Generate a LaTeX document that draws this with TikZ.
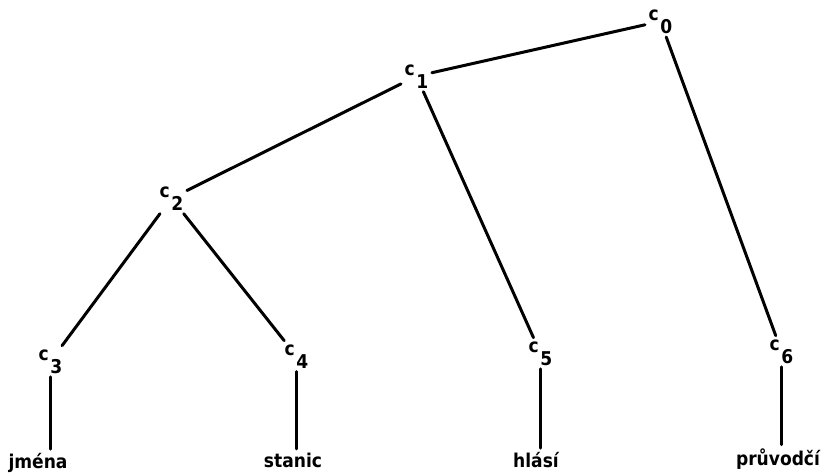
\documentclass[tikz,border=0pt]{standalone}
\usepackage{fontspec}
\setmainfont{DejaVu Sans Condensed}
\newcommand{\cs}[1]{c\kern1.5pt\raisebox{-13pt}{#1}}
\begin{document}
\begin{tikzpicture}[x=1pt,y=-1pt,
  lab/.style={font=\bfseries\fontsize{19}{19}\selectfont, inner sep=3.5pt},
  cnode/.style={lab, anchor=base west},
  word/.style={lab, anchor=base},
  edge/.style={line width=3pt, line cap=round}]
\useasboundingbox (0,0) rectangle (821,475);
% inner nodes (placed by the baseline of the letter c)
\node[cnode] (c0) at (645,20) {\cs{0}};
\node[cnode] (c1) at (401,75) {\cs{1}};
\node[cnode] (c2) at (156,197) {\cs{2}};
\node[cnode] (c3) at (35,360) {\cs{3}};
\node[cnode] (c4) at (281,355) {\cs{4}};
\node[cnode] (c5) at (525,352) {\cs{5}};
\node[cnode] (c6) at (766,350) {\cs{6}};
% words at the leaves
\node[word] (w3) at (38,468) {jména};
\node[word] (w4) at (293,467) {stanic};
\node[word] (w5) at (536,467) {hlásí};
\node[word] (w6) at (778,465) {průvodčí};
% tree edges
\draw[edge] (c0) -- (c1);
\draw[edge] (c0) -- (c6);
\draw[edge] (c1) -- (c2);
\draw[edge] (c1) -- (c5);
\draw[edge] (c2) -- (c3);
\draw[edge] (c2) -- (c4);
\draw[edge] (c3.south) -- (c3.south |- w3.north);
\draw[edge] (c4.south) -- (c4.south |- w4.north);
\draw[edge] (c5.south) -- (c5.south |- w5.north);
\draw[edge] (c6.south) -- (c6.south |- w6.north);
\end{tikzpicture}
\end{document}
